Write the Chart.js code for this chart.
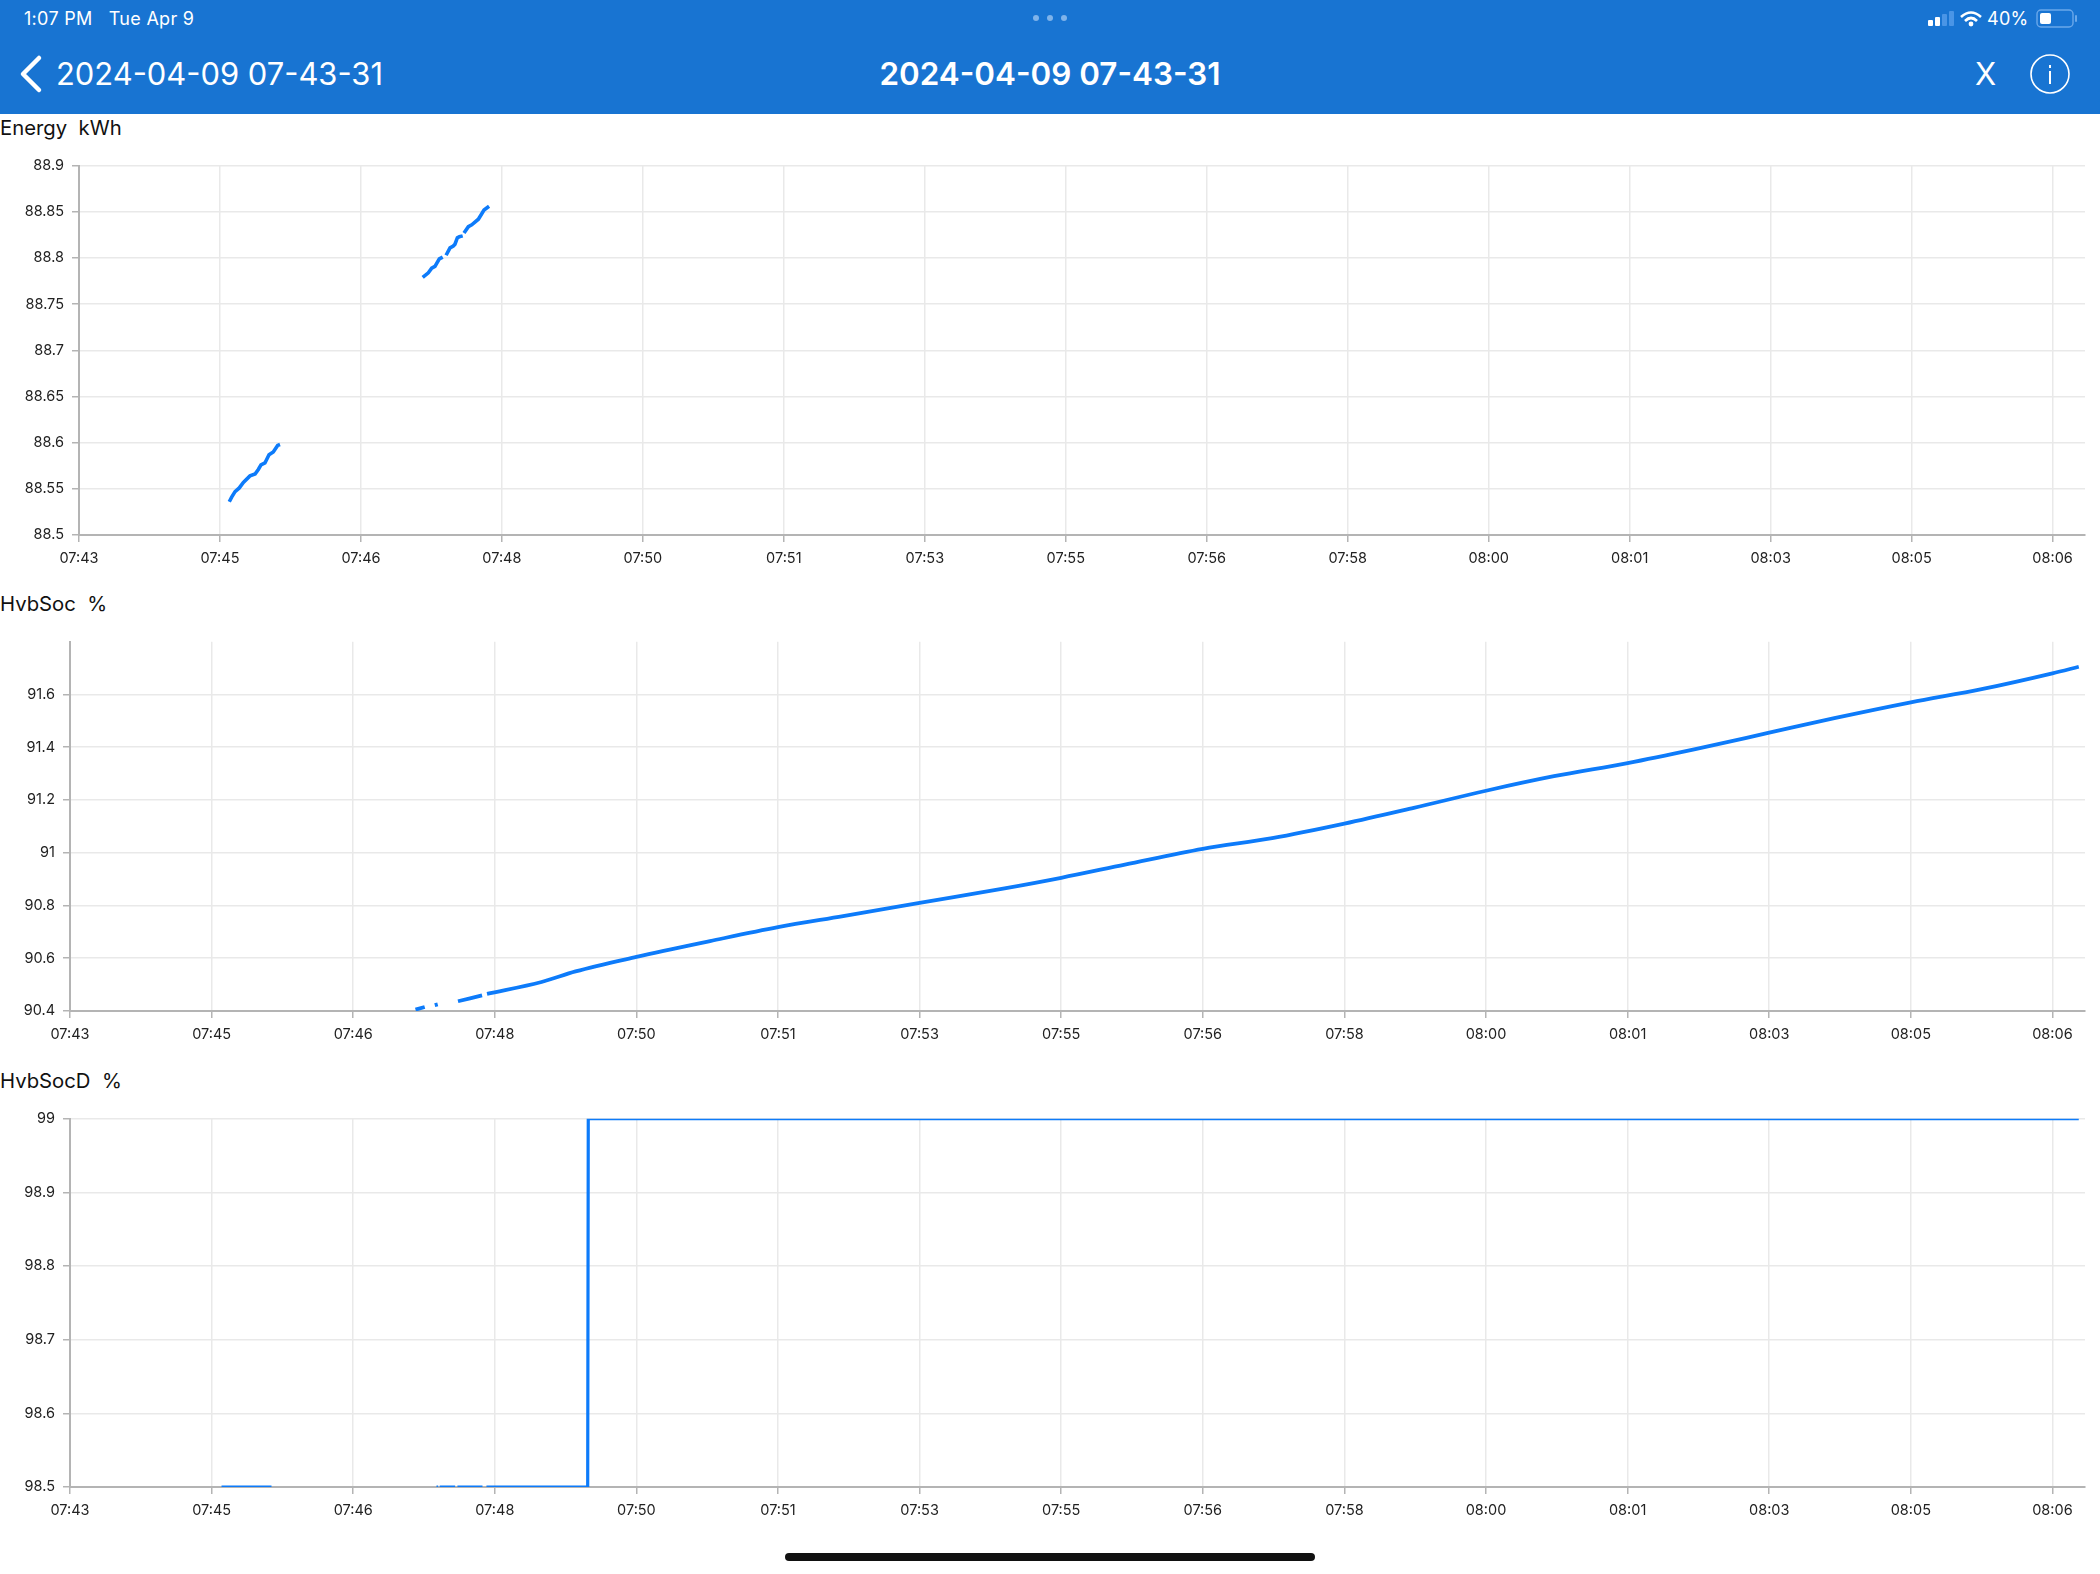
<!DOCTYPE html>
<html>
<head>
<meta charset="utf-8">
<title>2024-04-09 07-43-31</title>
<script src="https://cdn.jsdelivr.net/npm/chart.js@4"></script>
<style>
    html, body { margin: 0; padding: 0; background: #fff; width: 2100px; height: 1574px; overflow: hidden; font-family: Inter, Roboto, sans-serif; }
    #top { position: absolute; left: 0; top: 0; width: 2100px; height: 114px; background: #1874d2; color: #fff; }
    .abs { position: absolute; white-space: pre; }
    .name { position: absolute; left: 0; color: #111; font-size: 20.3px; line-height: 26px; white-space: pre; }
    canvas { position: absolute; left: 0; }
    #home { position: absolute; left: 785px; top: 1553px; width: 530px; height: 8px; border-radius: 4px; background: #111; }
</style>
</head>
<body>
<div id="top">
    <div class="abs" style="left:24px;top:9px;font-size:18px;line-height:20px;letter-spacing:.3px">1:07 PM   Tue Apr 9</div>
    <div class="abs" style="left:56px;top:54px;font-size:30.9px;line-height:40px">2024-04-09 07-43-31</div>
    <div class="abs" style="left:0;width:2100px;text-align:center;top:54px;font-size:31.4px;line-height:40px;font-weight:600">2024-04-09 07-43-31</div>
    <div class="abs" style="left:1975px;top:54px;font-size:31px;line-height:40px">X</div>
    <div class="abs" style="left:1987px;top:9px;font-size:18px;line-height:20px;letter-spacing:.3px">40%</div>
    <svg class="abs" style="left:0;top:0" width="2100" height="114" fill="none">
        <path d="M39 58 L23 74 L39 90" stroke="#fff" stroke-width="4.5" stroke-linecap="round" stroke-linejoin="round"/>
        <circle cx="1036" cy="18" r="3" fill="#7fb3ea"/><circle cx="1050" cy="18" r="3" fill="#7fb3ea"/><circle cx="1064" cy="18" r="3" fill="#7fb3ea"/>
        <circle cx="2050" cy="74" r="19" stroke="#fff" stroke-width="1.6"/>
        <rect x="2049" y="71" width="2" height="13" fill="#fff"/><rect x="2049" y="65" width="2" height="3" fill="#fff"/>
        <rect x="1928" y="20" width="5" height="6" rx="1" fill="#fff"/><rect x="1935" y="17" width="5" height="9" rx="1" fill="#fff"/>
        <rect x="1942" y="14" width="5" height="12" rx="1" fill="#4a95e6"/><rect x="1949" y="11" width="5" height="15" rx="1" fill="#4a95e6"/>
        <path d="M1961 17 Q1971 8 1981 17" stroke="#fff" stroke-width="2.6"/><path d="M1965 21 Q1971 15 1977 21" stroke="#fff" stroke-width="2.6"/>
        <circle cx="1971" cy="24" r="2.4" fill="#fff"/>
        <rect x="2037" y="10" width="36" height="17" rx="4" stroke="#6aa8ea" stroke-width="1.4"/>
        <rect x="2040" y="13" width="11" height="11" rx="2" fill="#fff"/>
        <rect x="2075" y="15" width="2" height="7" rx="1" fill="#6aa8ea"/>
    </svg>
</div>
<div class="name" style="top:115px">Energy  kWh</div>
<canvas id="energyChart"></canvas>
<div class="name" style="top:591px">HvbSoc  %</div>
<canvas id="socChart"></canvas>
<div class="name" style="top:1068px">HvbSocD  %</div>
<canvas id="socdChart"></canvas>
<div id="home"></div>
<script>
// time labels, one every 100 seconds from the start of the log
var timeLabels = ["07:43", "07:45", "07:46", "07:48", "07:50", "07:51", "07:53", "07:55", "07:56", "07:58", "08:00", "08:01", "08:03", "08:05", "08:06"];
var timeTicks = [0, 100, 200, 300, 400, 500, 600, 700, 800, 900, 1000, 1100, 1200, 1300, 1400];
var timeMax = 1423;

// Energy kWh
var energyTicks = [88.5, 88.55, 88.6, 88.65, 88.7, 88.75, 88.8, 88.85, 88.9];
var energySeconds = [106.6, 108.3, 110.7, 113.7, 116.6, 121.3, 124.9, 127.2, 129.1, 131.9, 134.8, 137.8, 140.9, 142.6, 190,
    243.8, 247.8, 250.2, 252.5, 255.6, 258, 259.2, 260.4, 263.2, 265.5, 266.7, 268.4, 269.8, 272.2, 272.6, 273.1, 276.2, 278.6, 283.3, 285.7, 287.3, 290.9];
var energyValues = [88.536, 88.541, 88.547, 88.551, 88.557, 88.564, 88.566, 88.571, 88.576, 88.578, 88.587, 88.59, 88.597, 88.598, null,
    88.779, 88.784, 88.789, 88.791, 88.799, 88.801, null, 88.803, 88.811, 88.813, 88.815, 88.822, 88.823, 88.824, null, 88.827, 88.834, 88.836, 88.842, 88.848, 88.852, 88.856];

// HvbSoc %
var socTicks = [90.4, 90.6, 90.8, 91, 91.2, 91.4, 91.6];
var socMax = 91.8;
var socSeconds = [244, 250.5, 254, 257.6, 259.7, 266, 274, 291, 293, 294.5, 333, 357, 400, 452, 500, 546, 600, 660, 700, 745, 800, 849, 900, 949, 1000, 1048, 1100, 1147, 1200, 1246, 1300, 1350, 1400, 1418.6];
var socValues = [90.405, 90.415, null, 90.422, 90.425, null, 90.437, 90.459, null, 90.465, 90.51, 90.55, 90.605, 90.665, 90.718, 90.76, 90.81, 90.865, 90.905, 90.955, 91.015, 91.055, 91.11, 91.17, 91.235, 91.29, 91.34, 91.392, 91.455, 91.51, 91.57, 91.62, 91.68, 91.705];

// HvbSocD %
var socdTicks = [98.5, 98.6, 98.7, 98.8, 98.9, 99];
var socdSeconds = [107, 142.3, 200, 258.8, 260, 260.5, 261.1, 272, 272.8, 273.6, 291.3, 292.7, 294.1, 365.6, 366, 1418.6];
var socdValues = [98.5, 98.5, null, 98.5, 98.5, null, 98.5, 98.5, null, 98.5, 98.5, null, 98.5, 98.5, 99, 99];

var lineColor = "#0d7bfa";
var gridColor = "#e9e9e9";
var axisColor = "#b4b4b4";
var labelFont = { family: "Inter, Roboto, sans-serif", size: 14.5 };

function toPoints(seconds, values) {
    return seconds.map(function (s, i) {
        return { x: s, y: values[i] };
    });
}

function makeChart(id, top, height, yWidth, seconds, values, yTicks, yMax, lineWidth, smooth) {
    var canvas = document.getElementById(id);
    canvas.width = 2100;
    canvas.height = height;
    canvas.style.top = top + "px";
    canvas.style.width = "2100px";
    canvas.style.height = height + "px";

    return new Chart(canvas.getContext("2d"), {
        type: "line",
        data: {
            datasets: [{
                data: toPoints(seconds, values),
                borderColor: lineColor,
                borderWidth: lineWidth,
                pointRadius: 0,
                lineTension: 0,
                cubicInterpolationMode: smooth ? "monotone" : "default",
                fill: false,
                spanGaps: false
            }]
        },
        options: {
            responsive: false,
            animation: false,
            parsing: false,
            normalized: true,
            layout: { padding: { top: 10, right: 15, left: 0, bottom: 0 } },
            plugins: { legend: { display: false }, tooltip: { enabled: false } },
            scales: {
                x: {
                    type: "linear",
                    min: 0,
                    max: timeMax,
                    afterBuildTicks: function (axis) {
                        axis.ticks = timeTicks.map(function (v) { return { value: v }; });
                    },
                    afterFit: function (axis) { axis.height = 36; },
                    border: { color: axisColor, width: 2 },
                    grid: { color: gridColor, lineWidth: 1.5, tickColor: axisColor, tickLength: 7 },
                    ticks: {
                        color: "#222",
                        font: labelFont,
                        padding: 8,
                        maxRotation: 0,
                        autoSkip: false,
                        callback: function (v, i) { return timeLabels[i]; }
                    }
                },
                y: {
                    type: "linear",
                    min: yTicks[0],
                    max: yMax,
                    afterBuildTicks: function (axis) {
                        axis.ticks = yTicks.map(function (v) { return { value: v }; });
                    },
                    afterFit: function (axis) { axis.width = yWidth; },
                    border: { color: axisColor, width: 2 },
                    grid: { color: gridColor, lineWidth: 1.5, tickColor: axisColor, tickLength: 7 },
                    ticks: {
                        color: "#222",
                        font: labelFont,
                        padding: 8,
                        autoSkip: false,
                        callback: function (v) { return String(v); }
                    }
                }
            }
        }
    });
}

(function () {
    makeChart("energyChart", 149, 422, 79, energySeconds, energyValues, energyTicks, 88.9, 3.6, false);
    makeChart("socChart", 625, 422, 70, socSeconds, socValues, socTicks, socMax, 3.8, true);
    makeChart("socdChart", 1102, 421, 70, socdSeconds, socdValues, socdTicks, 99, 3.2, false);
})();
</script>
</body>
</html>
